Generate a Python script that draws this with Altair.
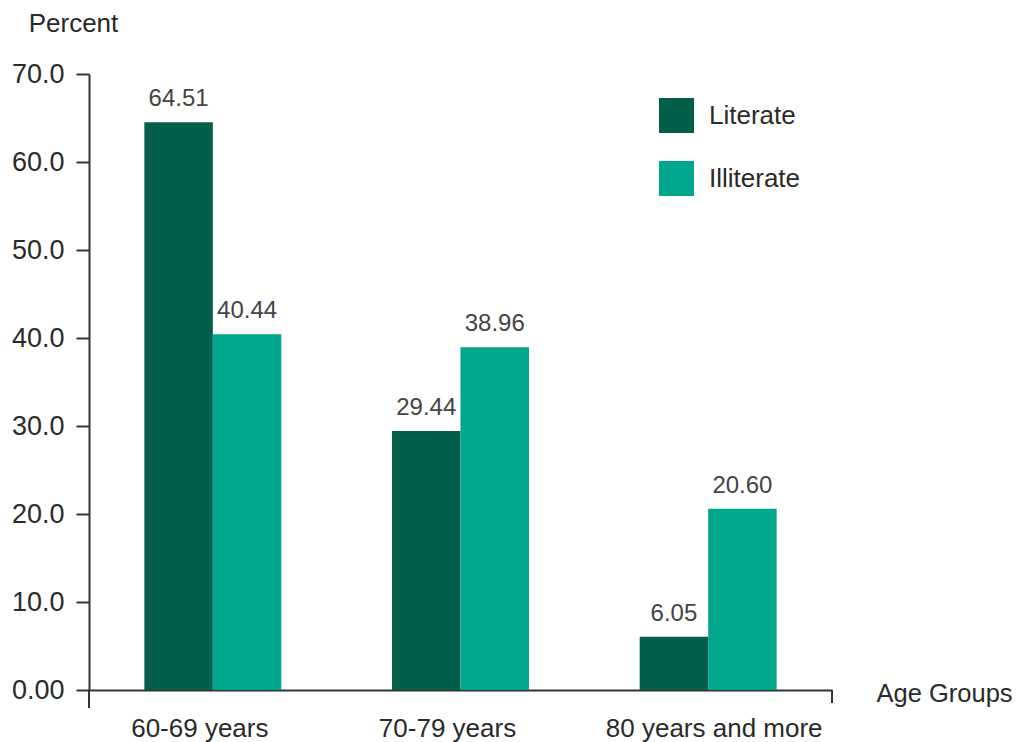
import altair as alt
import pandas as pd

groups = ["60-69 years", "70-79 years", "80 years and more"]
series = ["Literate", "Illiterate"]
literate = [64.51, 29.44, 6.05]
illiterate = [40.44, 38.96, 20.60]
colors = ["#035e4b", "#00a78d"]

rows = []
for g, a, b in zip(groups, literate, illiterate):
    rows.append({"group": g, "status": "Literate", "value": a})
    rows.append({"group": g, "status": "Illiterate", "value": b})
df = pd.DataFrame(rows)

FONT = "Liberation Sans"
TXT = "#2a2a2a"
W, H = 743, 616

x = alt.X("group:N", sort=groups,
          scale=alt.Scale(paddingInner=0.447, paddingOuter=0.2235),
          axis=alt.Axis(title="Age Groups", ticks=False, labelAngle=0, labelLimit=0,
                        labelOffset={"condition": {"test": "datum.value == '80 years and more'", "value": 6},
                                     "value": -13},
                        labelPadding=25, labelFontSize=26, labelFont=FONT,
                        labelColor=TXT, domainColor="#333", domainWidth=2,
                        titleFont=FONT, titleFontSize=25.5, titleFontWeight="normal",
                        titleColor=TXT, titleAnchor="start", titleAlign="left",
                        titleX=787, titleY=11, titleBaseline="alphabetic"))
y = alt.Y("value:Q", scale=alt.Scale(domain=[0, 70], nice=False),
          axis=alt.Axis(title="Percent", values=[0, 10, 20, 30, 40, 50, 60, 70],
                        labelExpr="datum.value == 0 ? '0.00' : format(datum.value, '.1f')",
                        grid=False, tickSize=13, tickColor="#333", tickWidth=2,
                        labelPadding=12, labelFontSize=27, labelFont=FONT, labelColor=TXT,
                        domainColor="#333", domainWidth=2,
                        titleFont=FONT, titleFontSize=26, titleFontWeight="normal",
                        titleColor=TXT, titleAngle=0, titleAlign="center",
                        titleX=-16, titleY=-43, titleBaseline="alphabetic"))

color = alt.Color("status:N", sort=series,
                  scale=alt.Scale(domain=series, range=colors),
                  legend=alt.Legend(title=None, orient="none", legendX=570, legendY=24,
                                    symbolType="square", symbolSize=1225,
                                    symbolStrokeWidth=0, symbolOpacity=1,
                                    rowPadding=28, labelOffset=15,
                                    labelFont=FONT, labelFontSize=26, labelColor=TXT))

base = alt.Chart(df).encode(
    x=x, xOffset=alt.XOffset("status:N", sort=series, scale=alt.Scale(paddingInner=0, paddingOuter=0)),
    y=y,
)

bars = base.mark_bar().encode(color=color)
labels = base.mark_text(baseline="alphabetic", dy=-16, font=FONT, fontSize=24, color="#444").encode(
    text=alt.Text("value:Q", format=".2f"))

decor_df = pd.DataFrame({"v": [0]})
ytick = alt.Chart(decor_df).mark_rule(color="#333", strokeWidth=2).encode(
    x=alt.value(0), y=alt.value(H), y2=alt.value(H + 18))
xtick = alt.Chart(decor_df).mark_rule(color="#333", strokeWidth=2).encode(
    x=alt.value(W), y=alt.value(H), y2=alt.value(H + 13))

chart = alt.layer(bars, labels, ytick, xtick).properties(
    width=W, height=H,
    background="white",
    autosize=alt.AutoSizeParams(type="none"),
    padding={"left": 81, "top": 66, "right": 182, "bottom": 52},
).configure_view(strokeWidth=0, stroke="transparent")

chart.save("out.html", embed_options={"renderer": "svg", "actions": False})
